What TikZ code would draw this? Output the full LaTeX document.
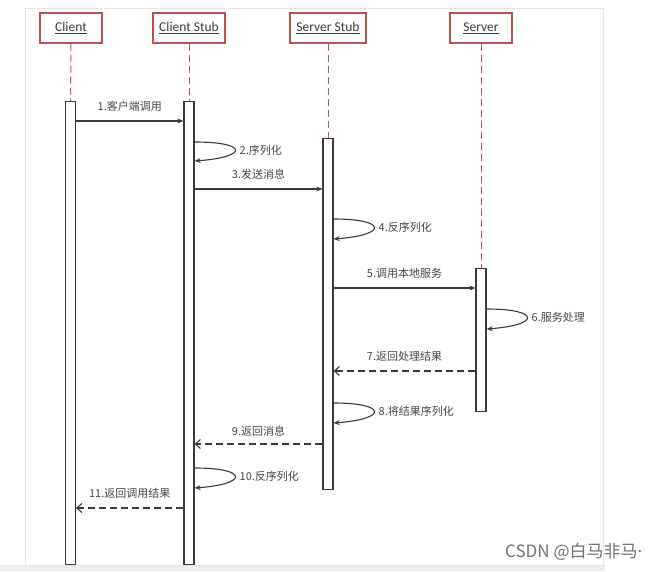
\documentclass[tikz,border=0pt]{standalone}
\usepackage{fontspec}
\usepackage{tikz}
\usetikzlibrary{arrows.meta}
\setmainfont{Carlito}
\newfontfamily\cjk{Noto Sans CJK SC}
\definecolor{boxred}{RGB}{192,80,77}
\definecolor{ink}{RGB}{58,58,58}
\definecolor{labelgray}{RGB}{70,70,70}
\tikzset{
  head/.style={draw=boxred,line width=1.3pt,fill=white,minimum height=30pt,
    inner sep=0pt,text=ink,font=\fontsize{13.5}{13.5}\selectfont},
  actbar/.style={draw=ink,line width=1.2pt,fill=white,minimum width=10pt,
    inner sep=0pt,anchor=north},
  life/.style={draw=boxred,line width=1pt,dash pattern=on 7pt off 4pt},
  msg/.style={draw=ink,line width=1.1pt,-{Stealth[length=6pt,width=5pt]}},
  reply/.style={draw=ink,line width=1.1pt,dash pattern=on 7pt off 4pt,
    -{Straight Barb[length=5pt,width=9pt]}},
  lbl/.style={text=labelgray,font=\cjk\fontsize{11}{11}\selectfont,inner sep=1pt},
}
\begin{document}
\begin{tikzpicture}[x=1pt,y=-1pt]
\useasboundingbox (0,0) rectangle (672,571);
% page and panel
\path[fill=white] (0,0) rectangle (672,571);
\path[fill=black!7] (0,565) rectangle (605,571);
\path[draw=black!10,fill=white] (25,8) rectangle (603,565);
% participants
\node[head,minimum width=62pt] (cli) at (71,28) {\underline{Client}};
\node[head,minimum width=72pt] (cst) at (189,28) {\underline{Client Stub}};
\node[head,minimum width=76pt] (sst) at (328,28) {\underline{Server Stub}};
\node[head,minimum width=62pt] (srv) at (481,28) {\underline{Server}};
% activation bars
\node[actbar,minimum height=463pt] (cliact) at (70.5,101) {};
\node[actbar,minimum height=463pt] (cstact) at (189,101) {};
\node[actbar,minimum height=351pt] (sstact) at (328,138) {};
\node[actbar,minimum height=143pt] (srvact) at (481,268) {};
% lifelines
\draw[life] (cli.south) -- (cliact.north);
\draw[life] (cst.south) -- (cstact.north);
\draw[life] (sst.south) -- (sstact.north);
\draw[life] (srv.south) -- (srvact.north);
% message levels
\coordinate (y1) at (0,121);
\coordinate (y2a) at (0,142);  \coordinate (y2b) at (0,161);
\coordinate (y3) at (0,189);
\coordinate (y4a) at (0,219);  \coordinate (y4b) at (0,239);
\coordinate (y5) at (0,288);
\coordinate (y6a) at (0,309);  \coordinate (y6b) at (0,329);
\coordinate (y7) at (0,371);
\coordinate (y8a) at (0,403);  \coordinate (y8b) at (0,423);
\coordinate (y9) at (0,444);
\coordinate (y10a) at (0,468); \coordinate (y10b) at (0,488);
\coordinate (y11) at (0,508);
% calls
\draw[msg] (cliact.east |- y1) -- node[lbl,above=8pt] {1.客户端调用} (cstact.west |- y1);
\draw[msg] (cstact.east |- y2a) .. controls +(54,0) and +(54,-4) ..
  node[lbl,right=3pt] {2.序列化} (cstact.east |- y2b);
\draw[msg] (cstact.east |- y3) -- node[lbl,above=8pt] {3.发送消息} (sstact.west |- y3);
\draw[msg] (sstact.east |- y4a) .. controls +(54,0) and +(54,-4) ..
  node[lbl,right=3pt] {4.反序列化} (sstact.east |- y4b);
\draw[msg] (sstact.east |- y5) -- node[lbl,above=8pt] {5.调用本地服务} (srvact.west |- y5);
\draw[msg] (srvact.east |- y6a) .. controls +(54,0) and +(54,-4) ..
  node[lbl,right=3pt] {6.服务处理} (srvact.east |- y6b);
% replies
\draw[reply] (srvact.west |- y7) -- node[lbl,above=8pt] {7.返回处理结果} (sstact.east |- y7);
\draw[msg] (sstact.east |- y8a) .. controls +(54,0) and +(54,-4) ..
  node[lbl,right=3pt] {8.将结果序列化} (sstact.east |- y8b);
\draw[reply] (sstact.west |- y9) -- node[lbl,above=6pt] {9.返回消息} (cstact.east |- y9);
\draw[msg] (cstact.east |- y10a) .. controls +(54,0) and +(54,-4) ..
  node[lbl,right=3pt] {10.反序列化} (cstact.east |- y10b);
\draw[reply] (cstact.west |- y11) -- node[lbl,above=8pt] {11.返回调用结果} (cliact.east |- y11);
% watermark
\node[text=black!55,font=\cjk\fontsize{17}{17}\selectfont,anchor=west,inner sep=0pt]
  (mark) at (505,552) {CSDN @白马非马{\fontspec{Noto Sans}·}};
\end{tikzpicture}
\end{document}
